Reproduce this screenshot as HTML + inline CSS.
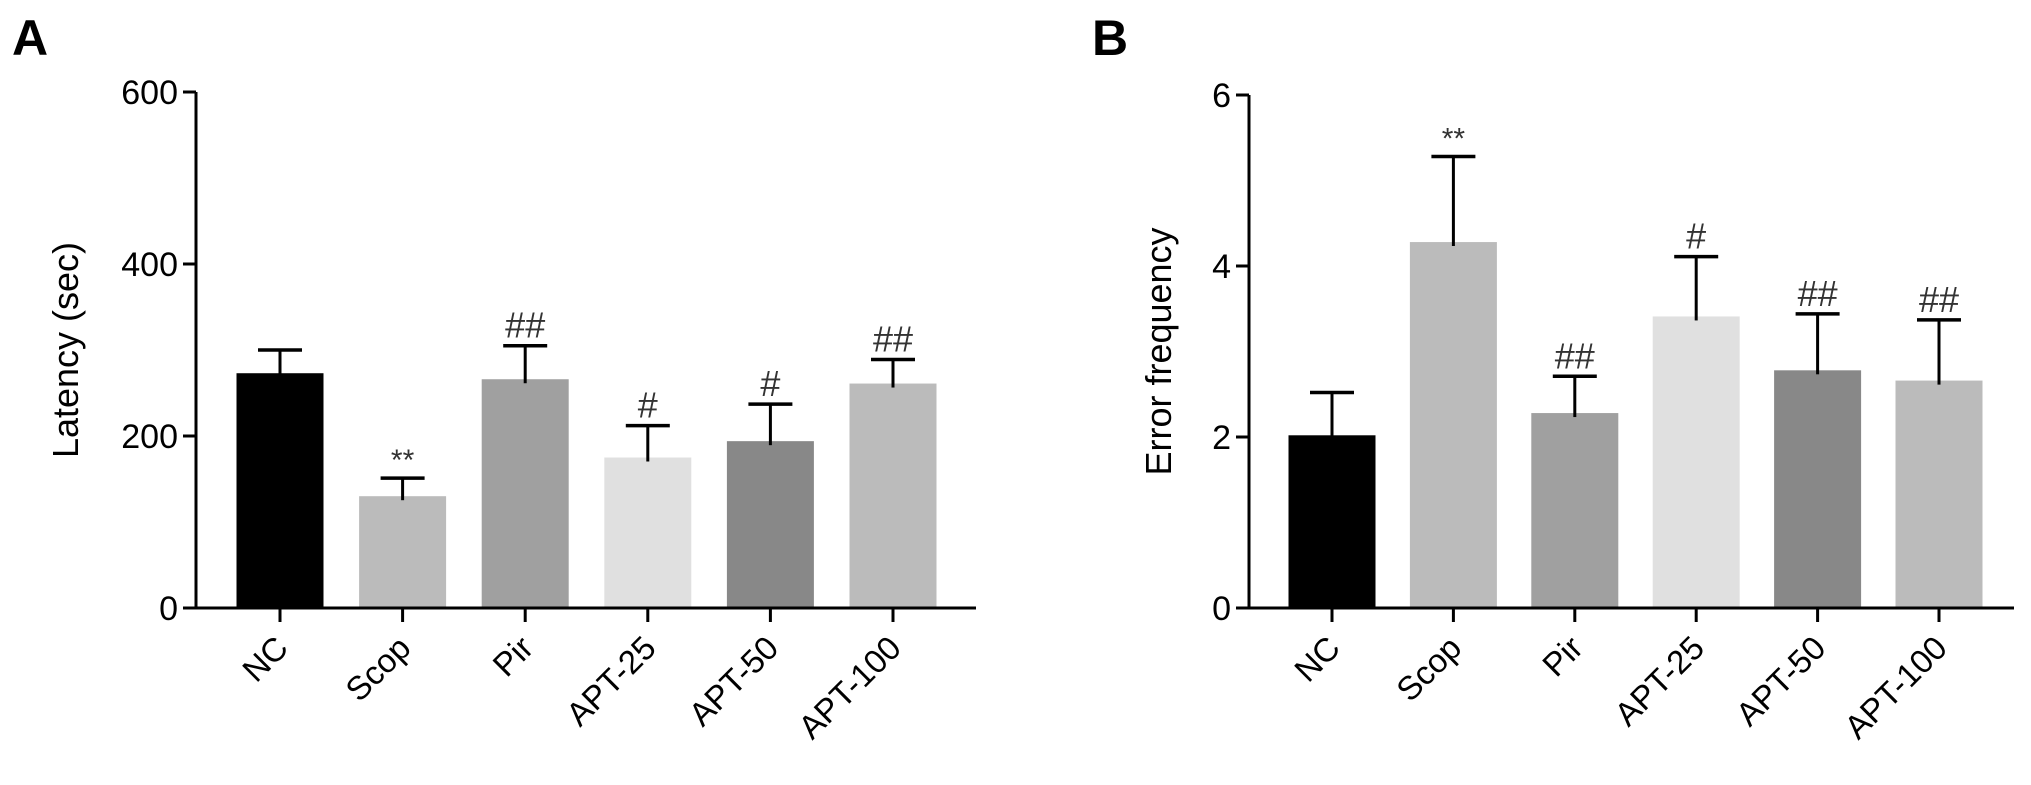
<!DOCTYPE html>
<html><head><meta charset="utf-8"><style>
html,body{margin:0;padding:0;background:#fff;}
svg text{font-family:"Liberation Sans",Arial,sans-serif;}
</style></head><body>
<svg id="fig" width="2031" height="780" viewBox="0 0 2031 780" xmlns="http://www.w3.org/2000/svg">
<text x="12" y="55" font-size="50" font-weight="bold">A</text>
<text x="1092" y="55" font-size="50" font-weight="bold">B</text>
<g id="ga"></g>
<g id="gb"></g>
</svg>
<script>
const categories = ["NC","Scop","Pir","APT-25","APT-50","APT-100"];
const latencyMeans = [273,130,266,175,194,261];
const latencyErrTop = [300,151,305,212,237,289];
const latencyMarks = ["","**","##","#","#","##"];
const latencyTicks = [0,200,400,600];
const errorMeans = [2.02,4.28,2.28,3.41,2.78,2.66];
const errorErrTop = [2.52,5.28,2.71,4.11,3.44,3.37];
const errorMarks = ["","**","##","#","##","##"];
const errorTicks = [0,2,4,6];
const colors = ["#000000","#bbbbbb","#a0a0a0","#e0e0e0","#888888","#bbbbbb"];
const NS="http://www.w3.org/2000/svg";
function mk(p,t,a){const e=document.createElementNS(NS,t);for(const k in a)e.setAttribute(k,a[k]);p.appendChild(e);return e;}
function draw(g,cfg){
  const {x0,x1,yTop,yBot,max,means,errs,marks,ticks,title,c0,step,prefix,titleOff}=cfg;
  const y=v=>yBot-(v/max)*(yBot-yTop);
  const xc=i=>c0+i*step;
  const bw=87;
  means.forEach((v,i)=>{
    const r=mk(g,'rect',{x:xc(i)-bw/2,y:y(v),width:bw,height:yBot-y(v),fill:colors[i]});
    
    
    const l=mk(g,'line',{x1:xc(i),x2:xc(i),y1:y(v)+4,y2:y(errs[i]),stroke:'#000','stroke-width':3});
    
    
    const c=mk(g,'line',{x1:xc(i)-22,x2:xc(i)+22,y1:y(errs[i]),y2:y(errs[i]),stroke:'#000','stroke-width':3.5});
    
    
    if(marks[i]){
      const t=mk(g,'text',{x:xc(i),y:y(errs[i])-8,'text-anchor':'middle','font-size':marks[i][0]=='*'?30:36,fill:'#333','font-family':'"Liberation Serif",serif'});
      t.textContent=marks[i];
      
      
    }
    const tk=mk(g,'line',{x1:xc(i),x2:xc(i),y1:yBot,y2:yBot+14,stroke:'#000','stroke-width':3});
    
    
    const lb=mk(g,'text',{x:0,y:0,'text-anchor':'end','font-size':33,transform:`translate(${xc(i)+10},${yBot+42}) rotate(-45)`});
    lb.textContent=categories[i];
    
    
  });
  const ya=mk(g,'line',{x1:x0,x2:x0,y1:yTop,y2:yBot+1.5,stroke:'#000','stroke-width':3});
  
  
  const xa=mk(g,'line',{x1:x0-13,x2:x1,y1:yBot,y2:yBot,stroke:'#000','stroke-width':3});
  
  
  ticks.forEach(v=>{
    const t=mk(g,'line',{x1:x0-13,x2:x0,y1:y(v),y2:y(v),stroke:'#000','stroke-width':3});
    
    
    const tl=mk(g,'text',{x:x0-18,y:y(v)+12,'text-anchor':'end','font-size':34});
    tl.textContent=v;
    
    
  });
  const tt=mk(g,'text',{x:0,y:0,'text-anchor':'middle','font-size':36,transform:`translate(${x0-titleOff},${(yTop+yBot)/2}) rotate(-90)`});
  tt.textContent=title;
  
  
}
draw(document.getElementById('ga'),{x0:196,x1:976,yTop:92,yBot:608,max:600,means:latencyMeans,errs:latencyErrTop,marks:latencyMarks,ticks:latencyTicks,title:'Latency (sec)',c0:280,step:122.6,prefix:'latency',titleOff:118});
draw(document.getElementById('gb'),{x0:1249,x1:2014,yTop:95,yBot:608,max:6,means:errorMeans,errs:errorErrTop,marks:errorMarks,ticks:errorTicks,title:'Error frequency',c0:1332,step:121.4,prefix:'error',titleOff:78});
</script>
</body></html>
